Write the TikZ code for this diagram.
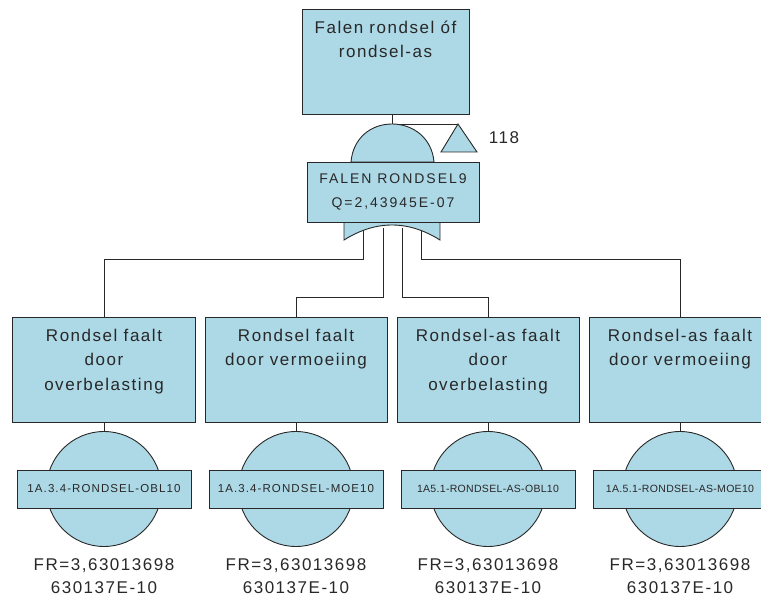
\documentclass[tikz,border=0pt]{standalone}
\usepackage{fontspec}
\setmainfont{Liberation Sans}
\newfontfamily\evfont[LetterSpace=9]{Liberation Sans}
\newfontfamily\gatefont[LetterSpace=14]{Liberation Sans}
\newfontfamily\idfont[LetterSpace=9.5]{Liberation Sans}
\newfontfamily\idnarrowfont[LetterSpace=3]{Liberation Sans}
\usetikzlibrary{positioning}
\definecolor{ftblue}{RGB}{173,216,230}
\definecolor{ftline}{RGB}{40,40,40}
\tikzset{
  event/.style     = { draw=ftline, fill=ftblue, line width=0.9pt, minimum height=105pt, inner sep=0pt },
  eventtext/.style = { align=center, inner sep=0pt, text=ftline,
                       font=\evfont\fontsize{17}{24.5}\selectfont },
  connect/.style   = { draw=ftline, line width=0.9pt },
  gate/.style      = { draw=ftline, fill=ftblue, line width=0.9pt },
  gatebox/.style   = { gate, minimum width=172pt, minimum height=60pt, inner sep=0pt, align=center,
                       text=ftline, font=\gatefont\fontsize{14}{24}\selectfont },
  basic/.style     = { circle, gate, minimum size=115pt, inner sep=0pt },
  ident/.style     = { gate, minimum width=174pt, minimum height=38pt, inner sep=0pt,
                       text=ftline, font=\idfont\fontsize{11.5}{13}\selectfont },
  identnarrow/.style = { ident, font=\idnarrowfont\fontsize{10.5}{12}\selectfont },
  prob/.style      = { anchor=north, align=center, inner sep=0pt, text=ftline,
                       font=\evfont\fontsize{17}{23}\selectfont }
}

\begin{document}
\begin{tikzpicture}[x=1pt,y=-1pt]
  \useasboundingbox (0,0) rectangle (761,601);

  % Top event
  \node[event, minimum width=167pt] (top) at (385.5,61.5) {};
  \node[eventtext, below=12pt of top.north] (top-txt) {Falen rondsel óf\\rondsel-as};

  % OR gate with transfer to 118
  \coordinate (or-top) at (392,124);
  \coordinate (xfer)   at (458,124);
  \draw[connect] (top.south -| or-top) -- (or-top) -- (xfer);
  \draw[gate] (xfer) -- (477,152) -- (441,152) -- cycle;
  \node[eventtext] (xfer-txt) at (504,138) {118};

  \coordinate (out1) at (363,228);
  \coordinate (out2) at (383,228);
  \coordinate (out3) at (402,228);
  \coordinate (out4) at (421,228);

  % Bottom events
  \node[event, minimum width=183pt] (e1) at (104,369.5) {};
  \node[event, minimum width=182pt] (e2) at (296,369.5) {};
  \node[event, minimum width=182pt] (e3) at (488,369.5) {};
  \node[event, minimum width=182pt] (e4) at (680,369.5) {};
  \node[eventtext, below=12pt of e1.north] (e1-txt) {Rondsel faalt\\door\\overbelasting};
  \node[eventtext, below=12pt of e2.north] (e2-txt) {Rondsel faalt\\door vermoeiing};
  \node[eventtext, below=12pt of e3.north] (e3-txt) {Rondsel-as faalt\\door\\overbelasting};
  \node[eventtext, below=12pt of e4.north] (e4-txt) {Rondsel-as faalt\\door vermoeiing};

  \draw[connect] (out1) -- (out1 |- 0,259) -| (e1.north);
  \draw[connect] (out2) -- (out2 |- 0,297) -| (e2.north);
  \draw[connect] (out3) -- (out3 |- 0,297) -| (e3.north);
  \draw[connect] (out4) -- (out4 |- 0,259) -| (e4.north);

  % gate body over the branch ends
  \draw[gate] (351,162) .. controls (353,138) and (371,124) .. (or-top)
              .. controls (413,124) and (432,138) .. (434,162) -- cycle;
  \draw[gate] (344,222) -- (344,240) .. controls (360,230) and (376,225) .. (392,225)
              .. controls (408,225) and (424,230) .. (440,240) -- (440,222);
  \node[gatebox] (or) at (393,192) {FALEN RONDSEL9\\Q=2,43945E-07};

  % Basic events
  \node[basic] (c1) at (104,489) {};
  \node[basic] (c2) at (296,489) {};
  \node[basic] (c3) at (488,489) {};
  \node[basic] (c4) at (680,489) {};
  \draw[connect] (e1.south) -- (c1.north);
  \draw[connect] (e2.south) -- (c2.north);
  \draw[connect] (e3.south) -- (c3.north);
  \draw[connect] (e4.south) -- (c4.north);

  \node[ident] (i1) at (c1) {1A.3.4-RONDSEL-OBL10};
  \node[ident] (i2) at (c2) {1A.3.4-RONDSEL-MOE10};
  \node[identnarrow] (i3) at (c3) {1A5.1-RONDSEL-AS-OBL10};
  \node[identnarrow] (i4) at (c4) {1A.5.1-RONDSEL-AS-MOE10};

  \node[prob] (p1) at (104,558.5) {FR=3,63013698\\630137E-10};
  \node[prob] (p2) at (296,558.5) {FR=3,63013698\\630137E-10};
  \node[prob] (p3) at (488,558.5) {FR=3,63013698\\630137E-10};
  \node[prob] (p4) at (680,558.5) {FR=3,63013698\\630137E-10};
\end{tikzpicture}
\end{document}
